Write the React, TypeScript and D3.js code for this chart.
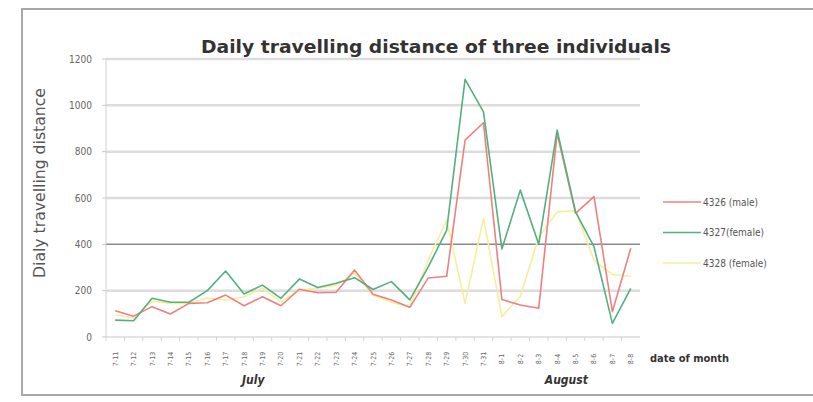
import React from "react";
import * as d3 from "d3";

// Dates along the x axis (July 11 – August 8)
const dates: string[] = [
  "7-11", "7-12", "7-13", "7-14", "7-15", "7-16", "7-17", "7-18", "7-19", "7-20",
  "7-21", "7-22", "7-23", "7-24", "7-25", "7-26", "7-27", "7-28", "7-29", "7-30",
  "7-31", "8-1", "8-2", "8-3", "8-4", "8-5", "8-6", "8-7", "8-8",
];

// Daily travelling distance per individual
const male4326: number[] = [
  113, 90, 131, 99, 145, 148, 181, 135, 174, 135, 206, 191, 193, 289, 185, 160,
  128, 255, 262, 850, 925, 162, 138, 124, 879, 534, 606, 109, 383,
];
const female4327: number[] = [
  73, 70, 167, 150, 150, 200, 285, 186, 224, 167, 250, 214, 232, 256, 205, 239,
  160, 303, 460, 1112, 972, 380, 634, 400, 893, 540, 390, 59, 210,
];
const female4328: number[] = [
  95, 82, 155, 145, 145, 168, 160, 174, 211, 152, 203, 211, 224, 276, 180, 150,
  130, 332, 505, 145, 512, 88, 175, 430, 540, 545, 330, 270, 262,
];

const seriesNames: string[] = ["4326 (male)", "4327(female)", "4328 (female)"];
const seriesColors: string[] = ["#ef8080", "#55b080", "#f6ee9c"];
const yTicks: number[] = [0, 200, 400, 600, 800, 1000, 1200];
const monthLabels: { name: string; from: string; to: string }[] = [
  { name: "July", from: "7-16", to: "7-21" },
  { name: "August", from: "8-1", to: "8-8" },
];

const W = 813;
const H = 402;
const font = "'Liberation Sans Narrow', 'DejaVu Sans Condensed', 'Open Sans', sans-serif";

export default function App() {
  const x = d3.scaleBand<string>().domain(dates).range([106, 640]).padding(0);
  const y = d3.scaleLinear().domain([0, 1200]).range([337, 59]);
  const cx = (d: string) => (x(d) ?? 0) + x.bandwidth() / 2;

  const allSeries = [male4326, female4327, female4328];
  const line = d3
    .line<number>()
    .x((_, i) => cx(dates[i]))
    .y((v) => y(v));

  // draw order: yellow beneath, then red, then green
  const drawOrder = [2, 0, 1];

  return (
    <svg
      width={W}
      height={H}
      style={{ position: "absolute", left: 0, top: 0, background: "#fff" }}
      fontFamily={font}
    >
      <rect x={0} y={0} width={W} height={H} fill="#fff" />
      {/* chart frame */}
      <rect x={22} y={9} width={W + 10} height={386} fill="none" stroke="#a8a8a8" strokeWidth={2} />

      {/* title */}
      <text
        x={436}
        y={53}
        textAnchor="middle"
        fontSize={18}
        fontWeight="bold"
        fill="#333"
        textLength={470}
        lengthAdjust="spacingAndGlyphs"
      >
        Daily travelling distance of three individuals
      </text>

      {/* gridlines */}
      {yTicks.map((t) => (
        <line
          key={"g" + t}
          x1={106}
          x2={640}
          y1={y(t)}
          y2={y(t)}
          stroke={t === 400 ? "#8a8a8a" : t === 0 ? "#c8c8c8" : "#dcdcdc"}
          strokeWidth={t === 400 ? 1.5 : t === 0 ? 1 : 2.5}
        />
      ))}
      {/* y axis line */}
      <line x1={106} x2={106} y1={y(1200)} y2={y(0)} stroke="#d0d0d0" strokeWidth={1} />
      {yTicks.map((t) => (
        <line key={"yt" + t} x1={102} x2={106} y1={y(t)} y2={y(t)} stroke="#c8c8c8" />
      ))}

      {/* y tick labels */}
      {yTicks.map((t) => (
        <text
          key={"yl" + t}
          x={92}
          y={y(t) + 3.5}
          textAnchor="end"
          fontSize={10}
          fill="#666"
        >
          {t}
        </text>
      ))}

      {/* y axis title */}
      <text
        transform={`translate(45, 183) rotate(-90)`}
        textAnchor="middle"
        fontSize={15}
        fill="#555"
        textLength={190}
        lengthAdjust="spacingAndGlyphs"
      >
        Dialy  travelling distance
      </text>

      {/* x tick marks */}
      {dates.map((d) => (
        <line
          key={"xt" + d}
          x1={x(d) ?? 0}
          x2={x(d) ?? 0}
          y1={337}
          y2={341}
          stroke="#d4d4d4"
        />
      ))}

      {/* x tick labels */}
      {dates.map((d) => (
        <text
          key={"xl" + d}
          transform={`translate(${cx(d) + 2.5}, 359) rotate(-90)`}
          textAnchor="middle"
          fontSize={7}
          fill="#666"
        >
          {d}
        </text>
      ))}

      {/* month labels */}
      {monthLabels.map((m) => {
        const mid = ((x(m.from) ?? 0) + (x(m.to) ?? 0) + x.bandwidth()) / 2;
        return (
          <text
            key={m.name}
            x={mid}
            y={384}
            textAnchor="middle"
            fontSize={12}
            fontWeight="bold"
            fontStyle="italic"
            fill="#333"
          >
            {m.name}
          </text>
        );
      })}

      <text x={650} y={362} fontSize={11} fontWeight="bold" fill="#333">
        date of month
      </text>

      {/* series lines */}
      {drawOrder.map((k) => (
        <path
          key={"s" + k}
          d={line(allSeries[k]) ?? ""}
          fill="none"
          stroke={seriesColors[k]}
          strokeWidth={1.6}
          strokeLinejoin="round"
        />
      ))}

      {/* legend */}
      {seriesNames.map((name, k) => {
        const ly = 202 + k * 30.5;
        return (
          <g key={"lg" + k}>
            <line x1={663} x2={701} y1={ly} y2={ly} stroke={seriesColors[k]} strokeWidth={1.6} />
            <text x={703} y={ly + 3.5} fontSize={10} fill="#555">
              {name}
            </text>
          </g>
        );
      })}
    </svg>
  );
}
